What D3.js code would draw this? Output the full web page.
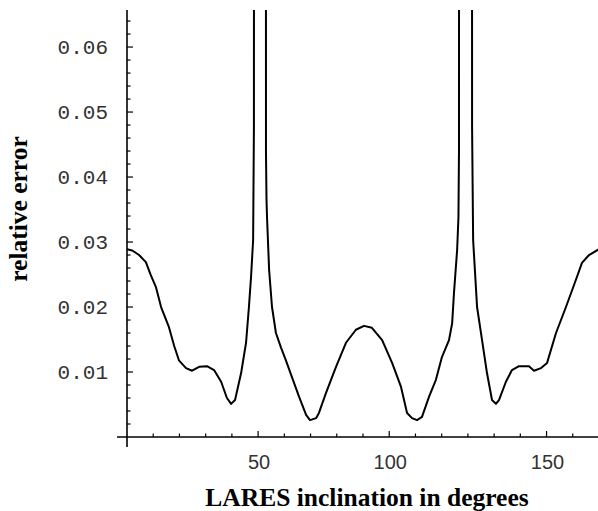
<html>
<head>
<meta charset="utf-8" />
<title>LARES relative error</title>
<script src="https://d3js.org/d3.v7.min.js"></script>
<style>
  body { margin: 0; background: #fff; }
</style>
</head>
<body>
<svg class="chart"></svg>
<script>
// inclination (deg) and relative error
// (0.3 = curve leaves the top of the frame at the two spikes)
const inclination = [0, 2, 4.6, 7.2, 9, 11, 13, 16, 18, 19.8, 22.5, 24.8, 27.5, 30.5, 33.2, 35.9, 38.1, 39.7, 41.2, 43.5,
  45.4, 46.5, 47.3, 48.1, 48.4, 48.6, 52.9, 53.0, 53.2, 53.4, 54.2, 55.3, 56.8, 58.7, 60.6, 62.9, 65.6, 68.3, 69.8,
  72.1, 73.2, 75.9, 79.7, 83.5, 87.3, 90.4, 93.4, 97.3, 101.1, 104.5, 106.8, 108.7, 110.6, 112.5, 115.2, 117.8,
  120.1, 122.8, 124.0, 124.7, 125.9, 126.4, 126.6, 126.8, 131.4, 131.6, 132.0, 133.5, 135.4, 137.3, 139.2, 140.7,
  141.9, 144.5, 146.8, 149.5, 153.3, 155.2, 157.9, 160.2, 163.6, 167.4, 171.2, 173.5, 176.2, 180];
const relError = [0.0289, 0.0287, 0.0280, 0.0269, 0.0250, 0.0231, 0.0200, 0.0169, 0.0140, 0.0118, 0.0106, 0.0102, 0.0108, 0.0109, 0.0103, 0.0085, 0.0060, 0.0051, 0.0057, 0.0098,
  0.0145, 0.0200, 0.0246, 0.0303, 0.0477, 0.3, 0.3, 0.0438, 0.0366, 0.0338, 0.0257, 0.0200, 0.0160, 0.0138, 0.0118, 0.0092, 0.0062, 0.0034, 0.0026,
  0.0029, 0.0037, 0.0068, 0.0108, 0.0145, 0.0165, 0.0171, 0.0168, 0.0149, 0.0114, 0.0077, 0.0037, 0.0029, 0.0026, 0.0031, 0.0062, 0.0088,
  0.0123, 0.0149, 0.0175, 0.0222, 0.0288, 0.0338, 0.0438, 0.3, 0.3, 0.0477, 0.0303, 0.0200, 0.0149, 0.0098, 0.0057, 0.0051,
  0.0057, 0.0085, 0.0103, 0.0109, 0.0109, 0.0102, 0.0106, 0.0114, 0.0160, 0.0200, 0.0242, 0.0268, 0.0280, 0.0289];
// tick marks as they sit in the figure (the "150" label sits on the 16th minor step)
const xMajor = [50, 100, 160];
const xLabels = ["50", "100", "150"];
const xMinor = [10, 20, 30, 40, 60, 70, 80, 90, 110, 120, 130, 140, 150, 170];
const yMajor = [0.01, 0.02, 0.03, 0.04, 0.05, 0.06];
const yMinor = d3.range(1, 33).map(i => +(i * 0.002).toFixed(3)).filter(v => !yMajor.includes(v));

const W = 598, H = 511;
const svg = d3.select("svg").attr("width", W).attr("height", H);

const x = d3.scaleLinear().domain([0, 180]).range([127, 599]);
const y = d3.scaleLinear().domain([0, 0.0657]).range([437, 10]);

svg.append("clipPath").attr("id", "plot")
  .append("rect").attr("x", 120).attr("y", 10).attr("width", 480).attr("height", 440);

// curve
const pts = inclination.map((d, i) => [d, relError[i]]);
svg.append("path")
  .attr("clip-path", "url(#plot)")
  .attr("d", d3.line().x(d => x(d[0])).y(d => y(d[1]))(pts))
  .attr("fill", "none")
  .attr("stroke", "#000")
  .attr("stroke-width", 2)
  .attr("stroke-linejoin", "round");

// axes lines
svg.append("line").attr("x1", x(0)).attr("x2", x(0)).attr("y1", 10).attr("y2", 447)
  .attr("stroke", "#000").attr("stroke-width", 1.6);
svg.append("line").attr("x1", 117).attr("x2", W).attr("y1", y(0)).attr("y2", y(0))
  .attr("stroke", "#000").attr("stroke-width", 1.6);

// y ticks (inward)
svg.selectAll(".ymaj").data(yMajor).enter().append("line")
  .attr("x1", x(0)).attr("x2", x(0) + 6).attr("y1", d => y(d)).attr("y2", d => y(d))
  .attr("stroke", "#000").attr("stroke-width", 1.2);
svg.selectAll(".ymin").data(yMinor).enter().append("line")
  .attr("x1", x(0)).attr("x2", x(0) + 3.5).attr("y1", d => y(d)).attr("y2", d => y(d))
  .attr("stroke", "#000").attr("stroke-width", 1.2);
svg.selectAll(".ylab").data(yMajor).enter().append("text")
  .attr("x", 108).attr("y", d => y(d)).attr("dy", "0.35em")
  .attr("text-anchor", "end")
  .style("font-family", "'Liberation Mono', monospace").style("font-size", "21px").style("fill", "#333")
  .text(d => d3.format(".2f")(d));

// x ticks (inward)
svg.selectAll(".xmaj").data(xMajor).enter().append("line")
  .attr("x1", d => x(d)).attr("x2", d => x(d)).attr("y1", y(0)).attr("y2", y(0) - 6)
  .attr("stroke", "#000").attr("stroke-width", 1.2);
svg.selectAll(".xmin").data(xMinor).enter().append("line")
  .attr("x1", d => x(d)).attr("x2", d => x(d)).attr("y1", y(0)).attr("y2", y(0) - 3.5)
  .attr("stroke", "#000").attr("stroke-width", 1.2);
svg.selectAll(".xlab").data(xMajor).enter().append("text")
  .attr("x", d => x(d) + 1).attr("y", 469)
  .attr("text-anchor", "middle")
  .style("font-family", "'Liberation Sans', sans-serif").style("font-size", "20px").style("fill", "#333")
  .text((d, i) => xLabels[i]);

// titles
svg.append("text")
  .attr("x", 367).attr("y", 506)
  .attr("text-anchor", "middle")
  .style("font-family", "'Liberation Serif', serif").style("font-weight", "bold").style("font-size", "25.5px")
  .text("LARES inclination in degrees");
svg.append("text")
  .attr("transform", "translate(27,209) rotate(-90)")
  .attr("text-anchor", "middle")
  .style("font-family", "'Liberation Serif', serif").style("font-weight", "bold").style("font-size", "25.5px")
  .text("relative error");
</script>
</body>
</html>
